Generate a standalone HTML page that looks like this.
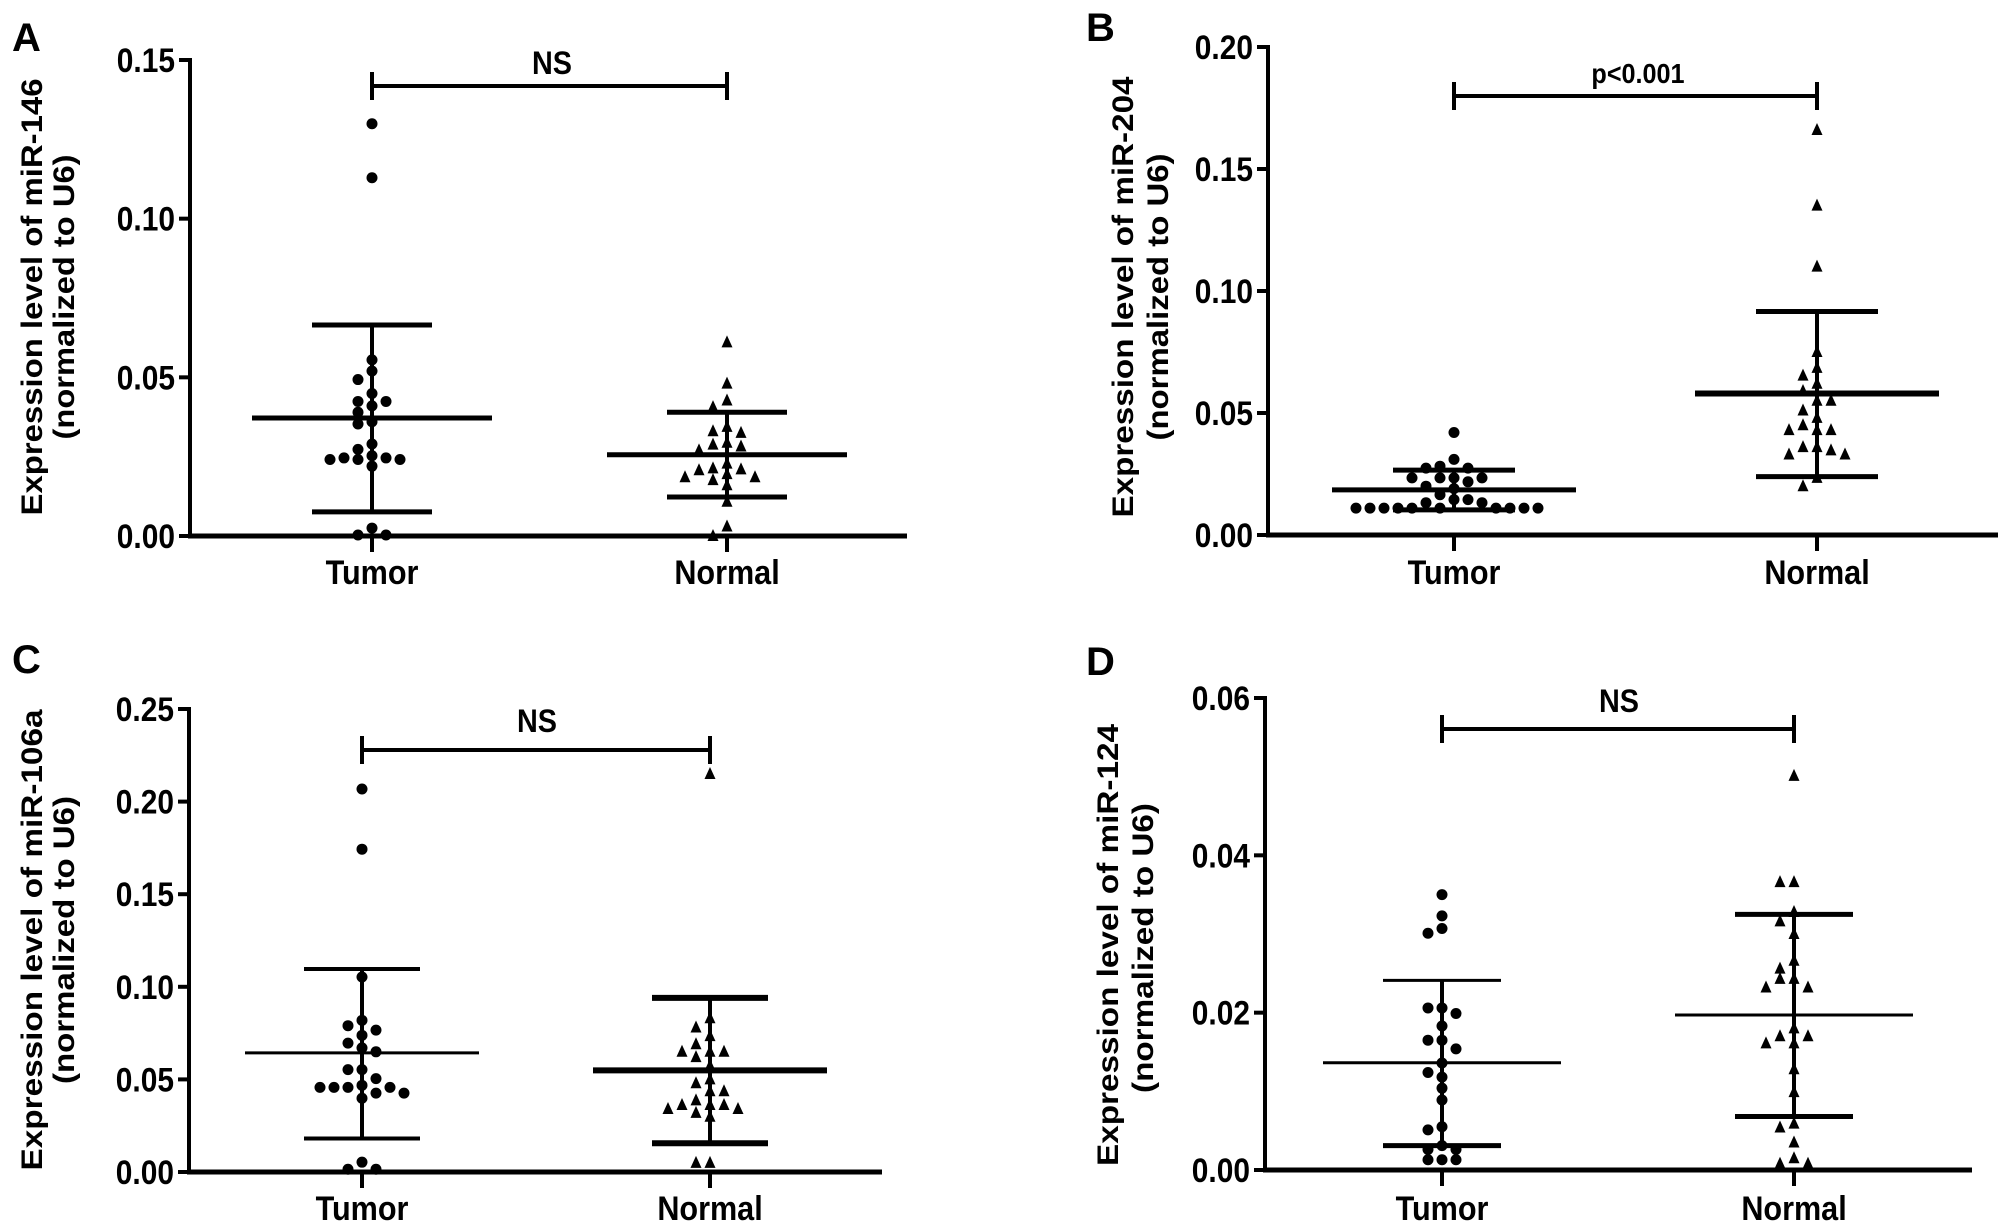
<!DOCTYPE html>
<html><head><meta charset="utf-8"><style>
html,body{margin:0;padding:0;background:#fff;}
svg{display:block;font-family:"Liberation Sans",Arial,sans-serif;font-weight:bold;}
</style></head>
<body>
<svg id="fig" width="2008" height="1229" viewBox="0 0 2008 1229" xmlns="http://www.w3.org/2000/svg"></svg>
<script>
// ---------- data ----------
const categories = ["Tumor", "Normal"];
// Panel A: miR-146
const aTumor = [0.1299,0.1129,0.0555,0.052,0.0493,0.0449,0.0424,0.0424,0.041,0.039,0.036,0.0353,0.029,0.0273,0.0253,0.0246,0.0241,0.0241,0.0241,0.0246,0.022,0.0025,0.0003,0.0003];
const aNormal = [0.061,0.048,0.0427,0.0406,0.0344,0.033,0.0325,0.0294,0.0288,0.0282,0.027,0.0228,0.0213,0.0207,0.021,0.0195,0.0185,0.0185,0.0176,0.016,0.0108,0.003,0.0];
const aMean = [0.0372, 0.0256];
const aSdHigh = [0.0665, 0.039];
const aSdLow = [0.0076, 0.0123];
const aTicks = ["0.00","0.05","0.10","0.15"];
// Panel B: miR-204
const bTumor = [0.042,0.031,0.0282,0.0274,0.0274,0.0234,0.0234,0.0234,0.0234,0.0218,0.020,0.019,0.0165,0.0145,0.0145,0.0132,0.0132,0.011,0.011,0.011,0.011,0.011,0.011,0.011,0.011,0.011,0.011];
const bNormal = [0.166,0.135,0.110,0.075,0.0685,0.0653,0.062,0.059,0.055,0.055,0.051,0.048,0.045,0.043,0.043,0.043,0.036,0.036,0.0347,0.033,0.033,0.0234,0.020];
const bMean = [0.0185, 0.058];
const bSdHigh = [0.0266, 0.0916];
const bSdLow = [0.0103, 0.0239];
const bTicks = ["0.00","0.05","0.10","0.15","0.20"];
// Panel C: miR-106a
const cTumor = [0.2068,0.1743,0.1053,0.0819,0.079,0.0766,0.0738,0.0696,0.067,0.0649,0.0553,0.0553,0.0504,0.0468,0.0457,0.0457,0.0457,0.0457,0.0426,0.0426,0.0398,0.0053,0.0015,0.0015];
const cNormal = [0.2149,0.083,0.078,0.0734,0.069,0.0649,0.0649,0.0649,0.062,0.0574,0.05,0.0479,0.0436,0.0436,0.0387,0.0362,0.0362,0.0362,0.034,0.034,0.0319,0.0298,0.0049,0.0049];
const cMean = [0.0643, 0.0549];
const cSdHigh = [0.1096, 0.094];
const cSdLow = [0.0181, 0.0155];
const cTicks = ["0.00","0.05","0.10","0.15","0.20","0.25"];
// Panel D: miR-124
const dTumor = [0.035,0.0323,0.0307,0.0301,0.0206,0.0206,0.0199,0.0183,0.0165,0.0165,0.0154,0.0136,0.0124,0.0118,0.0104,0.0089,0.0055,0.0051,0.0031,0.0026,0.0026,0.0013,0.0013,0.0013];
const dNormal = [0.0501,0.0366,0.0366,0.0328,0.0316,0.03,0.0266,0.0256,0.0243,0.0243,0.0232,0.0232,0.018,0.017,0.017,0.0161,0.0161,0.0128,0.0099,0.0059,0.0054,0.0035,0.0015,0.0008,0.0008];
const dMean = [0.01363, 0.0197];
const dSdHigh = [0.0241, 0.0325];
const dSdLow = [0.0031, 0.0068];
const dTicks = ["0.00","0.02","0.04","0.06"];

const NS = "http://www.w3.org/2000/svg";
const svg = document.getElementById('fig');
function mk(tag, attrs, parent){
  const e = document.createElementNS(NS, tag);
  for (const k in attrs) e.setAttribute(k, attrs[k]);
  (parent||svg).appendChild(e);
  return e;
}
function line(g,x1,y1,x2,y2,w){ return mk('line',{x1:x1,y1:y1,x2:x2,y2:y2,stroke:'#000','stroke-width':w},g); }

function panel(cfg){
  const g = mk('g',{});
  
  
  const yMax = parseFloat(cfg.ticks[cfg.ticks.length-1]);
  const yS = v => cfg.y0 - (v / yMax) * (cfg.y0 - cfg.yTop);
  const xS = i => cfg.cx[i];
  const L = mk('text',{x:cfg.letterX,y:cfg.letterY,'font-size':40},g); L.textContent = cfg.letter;
   
  const ya = line(g,cfg.x0,cfg.yTop-2,cfg.x0,cfg.y0+2,4);
   
  const xa = line(g,cfg.x0-2,cfg.y0,cfg.xEnd,cfg.y0,5);
   
  cfg.ticks.forEach(t=>{
    const y = yS(parseFloat(t));
    line(g,cfg.x0-11,y,cfg.x0,y,4);
    const tx = mk('text',{transform:`translate(${cfg.x0-15},${y+12}) scale(0.88,1)`,'font-size':34,'text-anchor':'end'},g);
    tx.textContent = t;
     
  });
  categories.forEach((c,i)=>{
    line(g,xS(i),cfg.y0,xS(i),cfg.y0+16,4);
    const tx = mk('text',{transform:`translate(${xS(i)},${cfg.catY}) scale(0.9,1)`,'font-size':34,'text-anchor':'middle'},g);
    tx.textContent = c;
     
  });
  const [l1x,l1c,l1len,l2x,l2c,l2len] = cfg.title;
  const t1 = mk('text',{transform:`translate(${l1x},${l1c}) rotate(-90)`,'font-size':30,'text-anchor':'middle',textLength:l1len,lengthAdjust:'spacingAndGlyphs'},g);
  t1.textContent = cfg.titleText;
   
  const t2 = mk('text',{transform:`translate(${l2x},${l2c}) rotate(-90)`,'font-size':30,'text-anchor':'middle',textLength:l2len,lengthAdjust:'spacingAndGlyphs'},g);
  t2.textContent = "(normalized to U6)";
   
  const b = cfg.bracket;
  const bg = mk('g',{},g);
   
  line(bg,xS(0)-1,b.y,xS(1)+1,b.y,4);
  line(bg,xS(0),b.y-14,xS(0),b.y+14,4);
  line(bg,xS(1),b.y-14,xS(1),b.y+14,4);
  const st = mk('text',{transform:`translate(${b.tx},${b.ty}) scale(0.9,1)`,'font-size':b.fs,'text-anchor':'middle'},g);
  st.textContent = b.label;
   
  [0,1].forEach(i=>{
    const eg = mk('g',{},g);
    
    
    const w = cfg.widths[i];
    line(eg,xS(i),yS(cfg.sdHigh[i]),xS(i),yS(cfg.sdLow[i]),4);
    line(eg,xS(i)-cfg.meanHalf,yS(cfg.mean[i]),xS(i)+cfg.meanHalf,yS(cfg.mean[i]),w[0]);
    line(eg,xS(i)-cfg.sdHalf,yS(cfg.sdHigh[i]),xS(i)+cfg.sdHalf,yS(cfg.sdHigh[i]),w[1]);
    line(eg,xS(i)-cfg.sdHalf,yS(cfg.sdLow[i]),xS(i)+cfg.sdHalf,yS(cfg.sdLow[i]),w[2]);
  });
  [cfg.tumor, cfg.normal].forEach((vals,i)=>{
    const placed = [];
    const sorted = vals.slice().sort((a,b)=>b-a);
    sorted.forEach(v=>{
      const py = yS(v);
      let off = 0;
      for (let k=0;k<40;k++){
        const o = k===0?0:(k%2===1?-1:1)*Math.ceil(k/2)*14;
        if (!placed.some(p=>Math.abs(p[0]-o)<13 && Math.abs(p[1]-py)<10)){ off=o; break; }
      }
      placed.push([off,py]);
      const px = xS(i)+off;
      let m;
      if (i===0){
        m = mk('circle',{cx:px,cy:py,r:5.5,fill:'#000'},g);
        
      } else {
        m = mk('polygon',{points:`${px},${py-7} ${px-5.5},${py+5} ${px+5.5},${py+5}`,fill:'#000'},g);
        
      }
      
    });
  });
}

panel({name:'panel-a-mir-146',letter:'A',letterX:12,letterY:51,x0:190,xEnd:907,y0:536,yTop:60,cx:[372,727],catY:584,
  ticks:aTicks,tumor:aTumor,normal:aNormal,mean:aMean,sdHigh:aSdHigh,sdLow:aSdLow,
  meanHalf:120,sdHalf:60,widths:[[5,5,5],[5,5,5]],
  titleText:'Expression level of miR-146',title:[42,297,437,74,297,285],
  bracket:{y:86,label:'NS',tx:552,ty:74,fs:32}});
panel({name:'panel-b-mir-204',letter:'B',letterX:1086,letterY:41,x0:1268,xEnd:1998,y0:535,yTop:47,cx:[1454,1817],catY:584,
  ticks:bTicks,tumor:bTumor,normal:bNormal,mean:bMean,sdHigh:bSdHigh,sdLow:bSdLow,
  meanHalf:122,sdHalf:61,widths:[[5,5,5],[6,5,5]],
  titleText:'Expression level of miR-204',title:[1133,297,441,1168,297,287],
  bracket:{y:96,label:'p<0.001',tx:1638,ty:83,fs:28}});
panel({name:'panel-c-mir-106a',letter:'C',letterX:12,letterY:673,x0:189,xEnd:882,y0:1172,yTop:709,cx:[362,710],catY:1220,
  ticks:cTicks,tumor:cTumor,normal:cNormal,mean:cMean,sdHigh:cSdHigh,sdLow:cSdLow,
  meanHalf:117,sdHalf:58,widths:[[3,4,4],[6,6,6]],
  titleText:'Expression level of miR-106a',title:[42,940,461,74,940,288],
  bracket:{y:750,label:'NS',tx:537,ty:732,fs:32}});
panel({name:'panel-d-mir-124',letter:'D',letterX:1086,letterY:675,x0:1265,xEnd:1972,y0:1170,yTop:698,cx:[1442,1794],catY:1220,
  ticks:dTicks,tumor:dTumor,normal:dNormal,mean:dMean,sdHigh:dSdHigh,sdLow:dSdLow,
  meanHalf:119,sdHalf:59,widths:[[3,3,5],[3,5,5]],
  titleText:'Expression level of miR-124',title:[1118,945,442,1153,948,290],
  bracket:{y:729,label:'NS',tx:1619,ty:712,fs:32}});
</script>
</body></html>
